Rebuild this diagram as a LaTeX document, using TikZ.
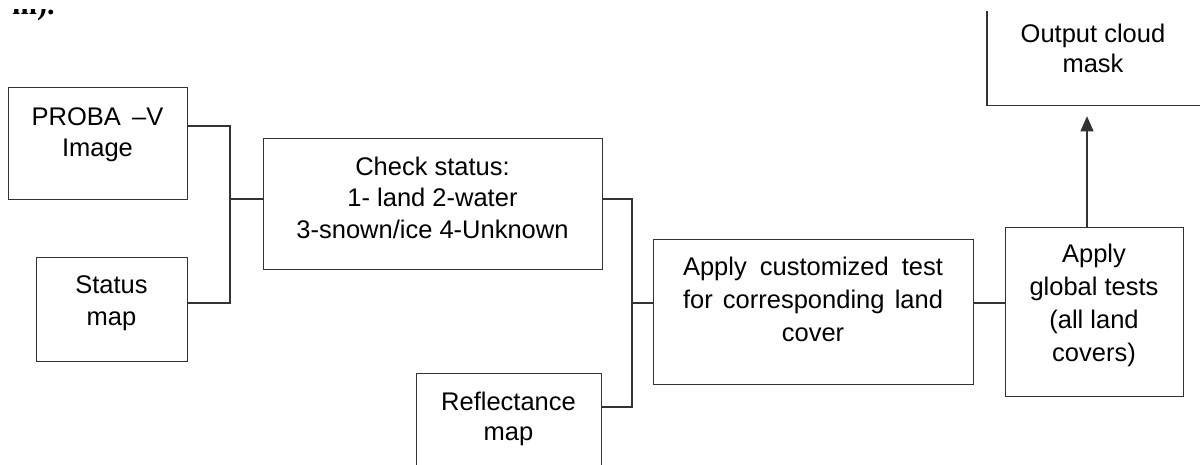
\documentclass[tikz,border=0pt]{standalone}
\usepackage{fontspec}
\setmainfont{Liberation Sans}
\newfontfamily\fragfont{Liberation Serif}
\usetikzlibrary{arrows.meta}
\newcommand\btext[2]{\parbox[t]{#1}{\centering #2}}
\begin{document}
\begin{tikzpicture}[x=1pt,y=-1pt,
  box/.style={draw=black!80, line width=1.3pt, inner sep=0pt, anchor=north west},
  lbl/.style={anchor=base, inner sep=0pt, font=\fontsize{25.5}{31}\selectfont},
  conn/.style={draw=black!80, line width=1.3pt}]
\useasboundingbox[fill=white] (0,0) rectangle (1200,464);

% cut-off text fragment at top-left
\begin{scope}
\clip (0,9) rectangle (120,40);
\node[anchor=base west, inner sep=0pt, font=\fragfont\bfseries\fontsize{30}{30}\selectfont] (frag) at (12,14) {m).};
\end{scope}

% boxes
\node[box, minimum width=179pt, minimum height=112pt] (proba) at (8,87) {};
\node[box, minimum width=151pt, minimum height=104pt] (status) at (36,257) {};
\node[box, minimum width=339pt, minimum height=131pt] (check) at (263,138) {};
\node[box, minimum width=185pt, minimum height=120pt] (refl) at (416,373) {};
\node[box, minimum width=320pt, minimum height=145pt] (apply) at (653,239) {};
\node[box, minimum width=178pt, minimum height=169pt] (global) at (1005,227) {};
\node[box, draw=none, minimum width=212pt, minimum height=93pt] (out) at (987,11) {};
\draw[conn] (out.north west) -- (out.south west) -- (out.south east) -- (out.north east);

% texts
\node[lbl] (probaT) at (97.5,125) {\btext{170pt}{PROBA \,–V\\Image}};
\node[lbl, font=\fontsize{25.5}{32}\selectfont] (statusT) at (111.5,293) {\btext{150pt}{Status\\map}};
\node[lbl, font=\fontsize{25.5}{31.5}\selectfont] (checkT) at (432.5,175) {\btext{330pt}{Check status:\\1- land 2-water\\3-snown/ice 4-Unknown}};
\node[lbl, font=\fontsize{25.5}{30}\selectfont] (reflT) at (508.5,410) {\btext{180pt}{Reflectance\\map}};
\node[lbl, font=\fontsize{25.5}{33}\selectfont] (applyT) at (813,275) {\btext{310pt}{\makebox[260pt][s]{Apply customized test}\\\makebox[260pt][s]{for corresponding land}\\cover}};
\node[lbl, font=\fontsize{25.5}{33.3}\selectfont] (globalT) at (1094,262) {\btext{175pt}{Apply\\global tests\\(all land\\covers)}};
\node[lbl, font=\fontsize{25.5}{30}\selectfont] (outT) at (1093,42) {\btext{205pt}{Output cloud\\mask}};

% connectors
\coordinate (j1) at (230,199);
\coordinate (j2) at (632,303);
\draw[conn] (proba.east |- 0,126) -- (230,126) -- (230,303) -- (status.east |- 0,303);
\draw[conn] (j1) -- (check.west |- j1);
\draw[conn] (check.east |- 0,199) -- (632,199) -- (632,407) -- (refl.east |- 0,407);
\draw[conn] (j2) -- (apply.west |- j2);
\draw[conn] (apply.east |- j2) -- (global.west |- j2);
\draw[conn, -{Triangle[length=15pt,width=13pt]}, shorten >=11pt] (global.north -| 1087,0) -- (out.south -| 1087,0);
\end{tikzpicture}
\end{document}
